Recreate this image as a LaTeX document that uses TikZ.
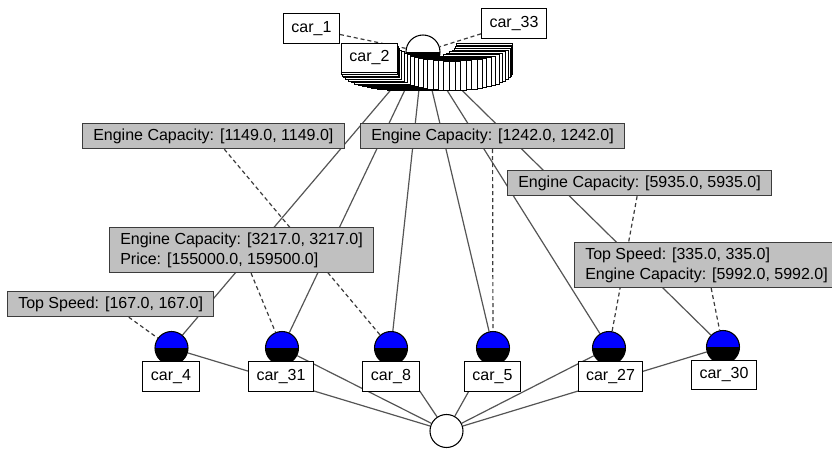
\documentclass[tikz,border=0pt]{standalone}
\usepackage{fontspec}
\setmainfont{Liberation Sans}
\usetikzlibrary{backgrounds}

\definecolor{edgegray}{RGB}{85,85,85}
\definecolor{boxgray}{RGB}{192,192,192}
\definecolor{rimgray}{RGB}{60,60,60}

\tikzset{
  labelfont/.style={font=\fontsize{12}{15}\selectfont},
  carball/.style={circle, draw=black, line width=0.8pt, minimum size=24.75pt, inner sep=0pt,
    path picture={
      \fill[black] (path picture bounding box.south west) rectangle (path picture bounding box.east);
      \fill[blue] (path picture bounding box.west) rectangle (path picture bounding box.north east);}},
  hubball/.style={circle, draw=black, line width=0.8pt, minimum size=25.5pt, inner sep=0pt,
    path picture={
      \fill[white] (path picture bounding box.west) rectangle (path picture bounding box.north east);
      \fill[black] (path picture bounding box.south west) rectangle (path picture bounding box.east);}},
  sinkball/.style={circle, draw=black, fill=white, line width=0.8pt, minimum size=24.75pt, inner sep=0pt},
  carlabel/.style={labelfont, draw=black, fill=white, line width=0.75pt, minimum width=42pt,
    minimum height=22pt, inner xsep=6pt, inner ysep=0pt},
  rangebox/.style={labelfont, draw=rimgray, fill=boxgray, line width=0.9pt, anchor=north west,
    align=left, inner xsep=8pt, inner ysep=2pt, minimum height=18.75pt},
  edge/.style={draw=edgegray, line width=0.9pt},
  hint/.style={draw=rimgray, line width=0.9pt, dash pattern=on 3pt off 2.25pt}
}

\begin{document}
\begin{tikzpicture}[x=0.75pt, y=-0.75pt]
\useasboundingbox (0,0) rectangle (832,449);
\clip (0,0) rectangle (832,449);

% hub at the top and the sink at the bottom
\node[hubball] (hub) at (423,52) {};
\node[sinkball] (sink) at (446.5,431) {};

% fan of stacked labels under the hub
\foreach \k in {0,...,31} {
  \pgfmathsetmacro\ang{\k*180/32}
  \node[carlabel] at ({427+57.5*cos(\ang)}, {58+18*sin(\ang)}) {};
}
\node[carlabel] (c2) at (369.5,58) {car\_2};
\node[carlabel] (c1) at (311.5,28.5) {car\_1};
\node[carlabel] (c33) at (514,23.5) {car\_33};

% cars
\node[carball] (c4) at (171.5,348) {};
\node[carball] (c31) at (282,348) {};
\node[carball] (c8) at (391,348) {};
\node[carball] (c5) at (493,348) {};
\node[carball] (c27) at (609,348) {};
\node[carball] (c30) at (723,347) {};
\node[carlabel] (l4) at (171,376.5) {car\_4};
\node[carlabel] (l31) at (281,376.5) {car\_31};
\node[carlabel] (l8) at (391,376.5) {car\_8};
\node[carlabel] (l5) at (492.5,376.5) {car\_5};
\node[carlabel] (l27) at (610.5,376.5) {car\_27};
\node[carlabel] (l30) at (724,375) {car\_30};

% ranges
\node[rangebox] (r1149) at (82,123) {Engine Capacity: [1149.0, 1149.0]};
\node[rangebox] (r1242) at (360,123) {Engine Capacity: [1242.0, 1242.0]};
\node[rangebox] (r5935) at (507,170) {Engine Capacity: [5935.0, 5935.0]};
\node[rangebox, minimum height=33.75pt] (r3217) at (109,227) {Engine Capacity: [3217.0, 3217.0]\\Price: [155000.0, 159500.0]};
\node[rangebox] (r167) at (7,291) {Top Speed: [167.0, 167.0]};
\node[rangebox, minimum height=33.75pt] (r335) at (574,242) {Top Speed: [335.0, 335.0]\\Engine Capacity: [5992.0, 5992.0]};

% connectors behind everything
\begin{pgfonlayer}{background}
\foreach \c in {c4,c31,c8,c5,c27,c30} {
  \draw[edge] (hub.center) -- (\c);
  \draw[edge] (sink) -- (\c);
}
\draw[hint] (c1) -- (hub);
\draw[hint] (c33) -- (hub);
\draw[hint] (r1149) -- (c8);
\draw[hint] (r1242) -- (c5);
\draw[hint] (r5935) -- (c27);
\draw[hint] (r3217) -- (c31);
\draw[hint] (r167) -- (c4);
\draw[hint] (r335) -- (c30);
\end{pgfonlayer}
\end{tikzpicture}
\end{document}
